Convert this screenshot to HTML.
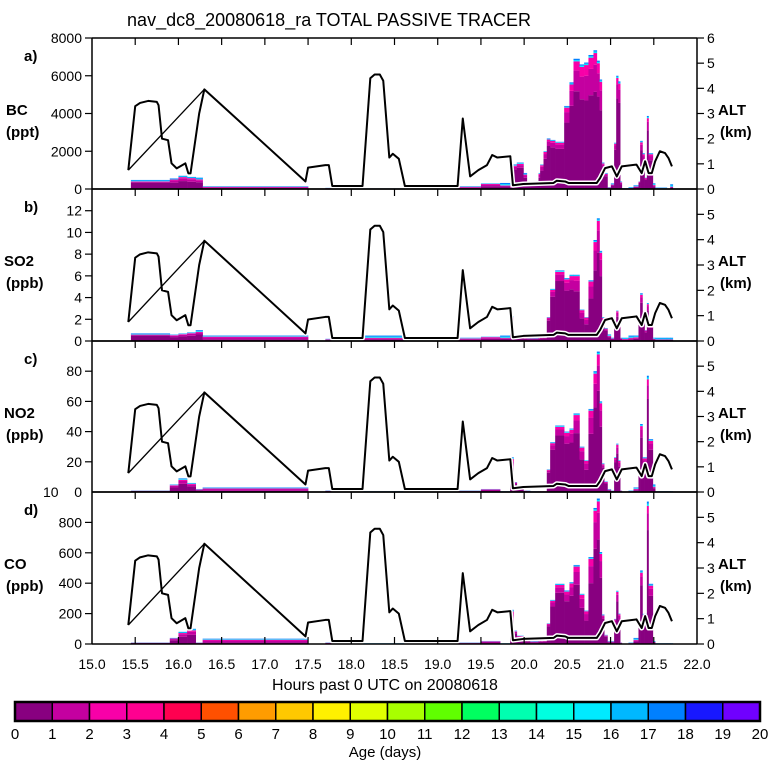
<!DOCTYPE html>
<html><head><meta charset="utf-8"><style>
html,body{margin:0;padding:0;background:#fff;}
svg{display:block;font-family:"Liberation Sans",sans-serif;}
</style></head><body>
<svg id="chart" width="768" height="768" viewBox="0 0 768 768" xmlns="http://www.w3.org/2000/svg">
<rect width="768" height="768" fill="#fff"/>
<text x="329" y="26" font-size="18" text-anchor="middle">nav_dc8_20080618_ra TOTAL PASSIVE TRACER</text>
<g id="layer"></g>
</svg>
<script>
const binEdges = [15.45,15.9,16.0,16.1,16.2,16.28,17.5,17.7,17.95,18.0,18.6,19.1,19.5,19.722,
19.838,19.876,19.915,19.992,20.031,20.069,20.166,20.185,20.224,20.262,20.301,20.359,20.463,20.524,20.571,20.640,20.694,20.744,20.802,20.841,20.872,20.899,20.926,20.964,21.003,21.041,21.065,21.088,21.111,21.130,21.207,21.265,21.323,21.342,21.369,21.393,21.420,21.439,21.489,21.516,21.651,21.690,21.720];
const bcValues = [480,560,700,640,600,150,0,60,0,30,20,150,300,
320,100,1300,1400,850,370,370,850,1300,2000,2680,2600,2500,4400,5650,6900,6600,6700,7100,7350,6800,5800,1400,850,100,300,2450,6000,5700,400,50,100,200,400,2550,1900,600,3870,1900,300,80,0,250];
const so2Values = [0.7,0.6,0.7,0.8,1.0,0.5,0,0.2,0,0.5,0.3,0.3,0.4,
0.5,2.3,0.6,0.4,0.3,0.3,0.3,0.3,0.3,0.3,2.2,4.8,6.5,5.8,6.1,6.1,2.9,2.2,5.6,9.3,11.3,8.3,2.2,1.2,0.6,0.3,1.5,2.8,1.5,0.3,0.3,0.5,0.5,2.0,4.4,2.0,1.0,3.5,1.5,0.3,0.3,0.3,0.3];
const no2Values = [1,5,9,6,2,3,0,1,0,0.5,0.3,1,2,
0.5,23,6.6,3,1,1,0.5,0.5,0.5,0.5,15,33,44,40,42,52,30,21,55,80,93,60,19,7,2,1,23,32,21,1,0,1,3,15,45,23,23,77,35,5,0.5,0.5,0.5];
const coValues = [10,40,80,100,10,35,0,10,0,5,5,10,20,
5,225,88,55,30,30,20,20,20,20,136,290,396,352,407,520,330,220,572,895,957,605,194,60,20,20,165,350,200,10,0,10,40,150,484,198,198,937,396,20,5,5,5];
const freshShare = [0.7,0.6,0.6,0.6,0.6,0.3,0,0.3,0,0.3,0.3,0.4,0.5,
0.4,0.7,0.8,0.8,0.7,0.6,0.6,0.7,0.75,0.8,0.85,0.85,0.85,0.8,0.78,0.75,0.72,0.7,0.7,0.7,0.72,0.72,0.85,0.8,0.6,0.6,0.85,0.8,0.8,0.6,0.3,0.3,0.4,0.8,0.8,0.8,0.8,0.8,0.8,0.5,0.3,0.3,0.3];
const oldShare = [0.15,0.1,0.1,0.1,0.15,0.2,0,0.2,0,0.4,0.4,0.2,0.1,
0.4,0.05,0.05,0.05,0.1,0.2,0.2,0.05,0.03,0.02,0.02,0.02,0.02,0.02,0.02,0.02,0.02,0.02,0.02,0.02,0.02,0.02,0.03,0.05,0.2,0.2,0.02,0.02,0.02,0.1,0.4,0.4,0.3,0.03,0.03,0.03,0.03,0.03,0.03,0.3,0.5,0.5,0.5];
const altTimes = [15.42,15.50,15.556,15.65,15.75,15.77,15.81,15.88,15.92,15.98,16.08,16.115,16.14,16.24,16.30,17.47,17.5,17.7,17.74,17.78,18.13,18.22,18.27,18.33,18.37,18.44,18.48,18.55,18.62,19.23,19.29,19.375,19.47,19.57,19.63,19.69,19.84,19.87,19.896,19.99,20.34,20.378,20.474,20.513,20.84,20.88,20.937,21.015,21.072,21.13,21.30,21.36,21.40,21.44,21.477,21.516,21.57,21.63,21.67,21.71];
const altKm = [0.75,3.29,3.42,3.5,3.46,3.33,2.0,1.94,1.02,0.82,1.02,0.62,0.62,3.0,3.96,0.3,0.85,0.95,0.95,0.12,0.12,4.4,4.55,4.55,4.3,1.25,1.4,1.2,0.12,0.12,2.8,0.5,0.75,0.95,1.35,1.25,1.3,0.15,0.16,0.2,0.24,0.33,0.3,0.24,0.24,0.44,0.83,0.9,0.5,0.9,0.97,0.63,1.1,0.63,0.63,1.1,1.5,1.43,1.23,0.9];
const gapTimes = [15.42,16.30];
const gapKm = [0.75,3.96];
const xTickLabels = ["15.0","15.5","16.0","16.5","17.0","17.5","18.0","18.5","19.0","19.5","20.0","20.5","21.0","21.5","22.0"];
const ageLabels = ["0","1","2","3","4","5","6","7","8","9","10","11","12","13","14","15","16","17","18","19","20"];
const ageColors = ["#880080","#c400a0","#f800a8","#ff0090","#ff0050","#ff5000","#ff9c00","#ffc800","#fff000","#e0ff00","#a8ff00","#60ff00","#00ff60","#00ffb0","#00ffe0","#00eaff","#00b8ff","#0080ff","#1818ff","#7000ff"];

const NS="http://www.w3.org/2000/svg";
const root=document.getElementById('layer');
const X0=92,X1=697,T0=15,T1=22;
function xs(t){return X0+(t-T0)/(T1-T0)*(X1-X0);}
function mk(tag,attrs,parent){const e=document.createElementNS(NS,tag);for(const k in attrs)e.setAttribute(k,attrs[k]);(parent||root).appendChild(e);return e;}

const panels=[
 {key:'bc',letter:'a)',name:'BC',unit:'(ppt)',top:38,bottom:189,max:8000,ticks:[0,2000,4000,6000,8000],vals:bcValues,alt:[0,1,2,3,4,5,6]},
 {key:'so2',letter:'b)',name:'SO2',unit:'(ppb)',top:189,bottom:341,max:14,ticks:[0,2,4,6,8,10,12],vals:so2Values,alt:[0,1,2,3,4,5]},
 {key:'no2',letter:'c)',name:'NO2',unit:'(ppb)',top:341,bottom:492,max:100,ticks:[20,40,60,80],vals:no2Values,alt:[0,1,2,3,4,5]},
 {key:'co',letter:'d)',name:'CO',unit:'(ppb)',top:492,bottom:644,max:1000,ticks:[0,200,400,600,800],vals:coValues,alt:[0,1,2,3,4,5]}
];

panels.forEach(p=>{
 const g=mk('g',{});
 
 
 const h=p.bottom-p.top;
 const ys=v=>p.bottom-v/p.max*h;
 const ya=a=>p.bottom-a/6*h;
 for(let i=0;i<p.vals.length;i++){
  const v=p.vals[i]; if(v<=0) continue;
  const xa=xs(binEdges[i]), xb=xs(binEdges[i+1]), w=Math.max(xb-xa,0.5);
  const f=freshShare[i], o=oldShare[i], m=Math.max(0,1-f-o);
  let base=0;
  const segs=[[f,ageColors[0]],[m*0.7,ageColors[1]],[m*0.3,ageColors[2]],[o*0.5,ageColors[15]],[o*0.5,ageColors[17]]];
  segs.forEach((s,k)=>{
   if(s[0]<=0) return;
   const y1=ys(v*base), y2=ys(v*(base+s[0]));
   const r=mk('rect',{x:xa,y:y2,width:w+0.3,height:Math.max(y1-y2,0.01),fill:s[1]},g);
   
   
   base+=s[0];
  });
 }
 const pts=altTimes.map((t,i)=>xs(t)+','+ya(altKm[i])).join(' ');
 const halo=mk('polyline',{points:pts,fill:'none',stroke:'#fff','stroke-width':5,'stroke-linejoin':'round'},g);
 
 
 const al=mk('polyline',{points:pts,fill:'none',stroke:'#000','stroke-width':2,'stroke-linejoin':'round'},g);
 
 
 const gp=gapTimes.map((t,i)=>xs(t)+','+ya(gapKm[i])).join(' ');
 const gl=mk('polyline',{points:gp,fill:'none',stroke:'#000','stroke-width':1.3},g);
 
 
 mk('line',{x1:X0,y1:p.top,x2:X1,y2:p.top,stroke:'#000','stroke-width':1.5},g);
 mk('line',{x1:X0,y1:p.bottom,x2:X1,y2:p.bottom,stroke:'#000','stroke-width':1.5},g);
 mk('line',{x1:X0,y1:p.top,x2:X0,y2:p.bottom,stroke:'#000','stroke-width':1.5},g);
 mk('line',{x1:X1,y1:p.top,x2:X1,y2:p.bottom,stroke:'#000','stroke-width':1.5},g);
 for(let t=15.5;t<22;t+=0.5){
  mk('line',{x1:xs(t),y1:p.top,x2:xs(t),y2:p.top+7,stroke:'#000','stroke-width':1.2},g);
  if(p.key==='co') mk('line',{x1:xs(t),y1:p.bottom,x2:xs(t),y2:p.bottom-7,stroke:'#000','stroke-width':1.2},g);
 }
 p.ticks.forEach(v=>{
  mk('line',{x1:X0-7,y1:ys(v),x2:X0,y2:ys(v),stroke:'#000','stroke-width':1.2},g);
  const tx=mk('text',{x:X0-10,y:ys(v)+5,'font-size':14,'text-anchor':'end'},g);
  tx.textContent=v;
  
  
 });
 p.alt.forEach(a=>{
  mk('line',{x1:X1,y1:ya(a),x2:X1+7,y2:ya(a),stroke:'#000','stroke-width':1.2},g);
  const tx=mk('text',{x:X1+10,y:ya(a)+5,'font-size':14},g);
  tx.textContent=a;
  
  
 });
 const lt=mk('text',{x:24,y:p.top+23,'font-size':15,'font-weight':'bold'},g);
 lt.textContent=p.letter;
 
 
 const nm=mk('text',{x:p.key==='bc'?6:4,y:p.top+77,'font-size':15,'font-weight':'bold'},g);
 nm.textContent=p.name;
 
 
 const un=mk('text',{x:6,y:p.top+99,'font-size':15,'font-weight':'bold'},g);
 un.textContent=p.unit;
 
 
 const at=mk('text',{x:718,y:p.top+77,'font-size':15,'font-weight':'bold'},g);
 at.textContent='ALT';
 
 
 const au=mk('text',{x:720,y:p.top+99,'font-size':15,'font-weight':'bold'},g);
 au.textContent='(km)';
 
 
});
const stray=mk('text',{x:43,y:497,'font-size':14});
stray.textContent='10';


const zero=mk('text',{x:82,y:497,'font-size':14,'text-anchor':'end'});
zero.textContent='0';



xTickLabels.forEach((s,i)=>{
 const t=mk('text',{x:xs(T0+i*0.5),y:669,'font-size':14,'text-anchor':'middle'});
 t.textContent=s;
 
 
});
const xt=mk('text',{x:385,y:690,'font-size':16,'text-anchor':'middle'});
xt.textContent='Hours past 0 UTC on 20080618';



const CB0=15,CB1=760,CBT=702,CBB=721;
const cw=(CB1-CB0)/ageColors.length;
ageColors.forEach((c,i)=>{
 const r=mk('rect',{x:CB0+i*cw,y:CBT,width:cw,height:CBB-CBT,fill:c,stroke:'#000','stroke-width':1.5});
 
 
});
mk('rect',{x:CB0,y:CBT,width:CB1-CB0,height:CBB-CBT,fill:'none',stroke:'#000','stroke-width':2.5});
ageLabels.forEach((s,i)=>{
 const t=mk('text',{x:CB0+i*cw,y:739,'font-size':15,'text-anchor':'middle'});
 t.textContent=s;
 
 
});
const ct=mk('text',{x:385,y:757,'font-size':15,'text-anchor':'middle'});
ct.textContent='Age (days)';


</script>
</body></html>
